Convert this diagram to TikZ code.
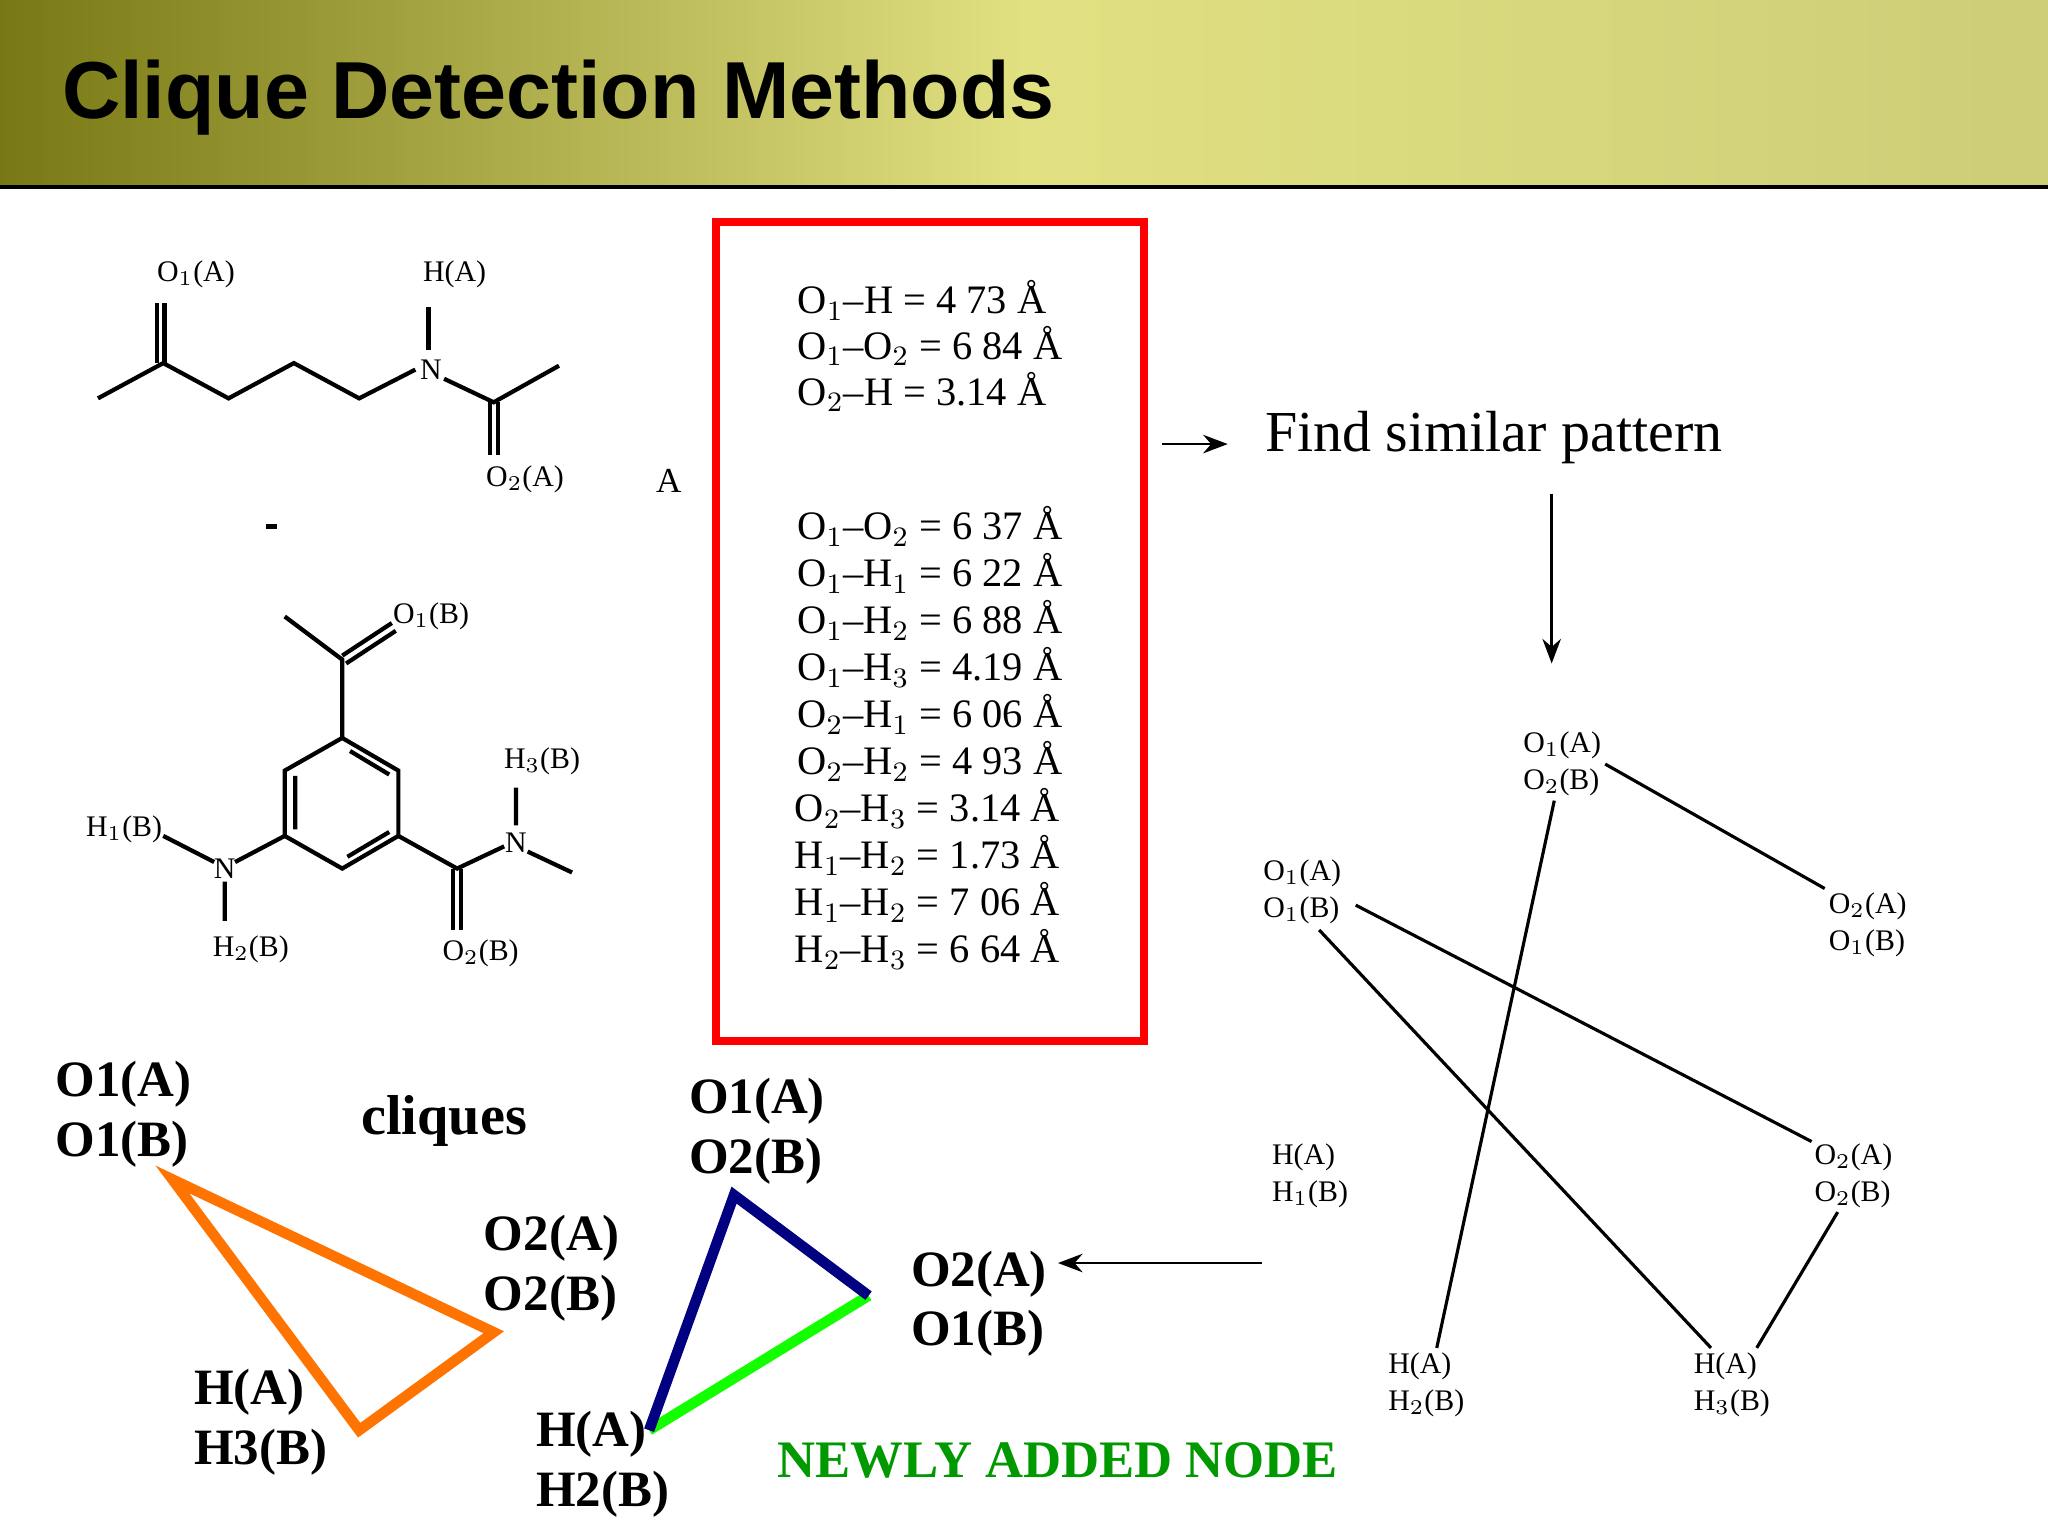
\documentclass[tikz,border=0pt]{standalone}
\usepackage{fontspec}
\setmainfont{Liberation Serif}
\newfontfamily\titlefont{Liberation Sans}
\usetikzlibrary{arrows.meta}
\definecolor{hdl}{RGB}{120,120,20}
\definecolor{hdm}{RGB}{225,225,130}
\definecolor{hdr}{RGB}{205,205,120}
\begin{document}
\begin{tikzpicture}[x=0.01306cm,y=-0.01306cm,
  bond/.style={line width=1.2pt},
  chem/.style={font=\fontsize{8.5}{9}\selectfont,inner sep=1pt},
  dist/.style={font=\fontsize{11.5}{13.4}\selectfont,inner sep=0pt},
  gnode/.style={font=\fontsize{8.5}{10.5}\selectfont,align=left,inner sep=1pt},
  blab/.style={font=\fontsize{14.5}{17}\selectfont\bfseries,align=left,inner sep=0pt,anchor=north west},
  edge/.style={line width=0.9pt},
  arr/.style={line width=0.8pt,-{Stealth[length=7pt]}},
  tri/.style={line width=3pt}]
\useasboundingbox (0,0) rectangle (1568,1176);
\fill[white] (0,0) rectangle (1568,1176);
% header
\shade[left color=hdl,right color=hdr,middle color=hdm] (0,0) rectangle (1568,143);
\draw[line width=1pt] (0,143) -- (1568,143);
\node[anchor=west,font=\titlefont\bfseries\fontsize{23}{26}\selectfont] (title) at (38,75) {Clique Detection Methods};
% structure A
\draw[bond] (75,305)--(125,278)--(175,305)--(225,278)--(275,305)--(318,283);
\draw[bond] (340,290)--(378,308)--(428,280);
\draw[bond] (120,278)--(120,232) (126,278)--(126,232);
\draw[bond] (328,235)--(328,268);
\draw[bond] (375,308)--(375,348) (381,308)--(381,348);
\node[chem] (NA) at (330,283) {N};
\node[chem] (O1A) at (150,210) {O$_1$(A)};
\node[chem] (HA) at (348,210) {H(A)};
\node[chem] (O2A) at (402,367) {O$_2$(A)};
\node[chem,font=\fontsize{10}{11}\selectfont] (Alab) at (512,368) {A};
\draw[line width=1.5pt] (204,403)--(212,403);
% structure B
\draw[bond] (262,565)--(305,590)--(305,640)--(262,665)--(218,640)--(218,590)--cycle;
\draw[bond] (268,575)--(298,593) (298,637)--(266,656) (226,635)--(226,594);
\draw[bond] (262,565)--(262,505)--(218,472);
\draw[bond] (262,502)--(300,477) (265,508)--(303,483);
\draw[bond] (218,640)--(180,660) (164,660)--(125,640) (172,675)--(172,705);
\draw[bond] (305,640)--(350,665)--(386,648) (404,652)--(438,668) (395,603)--(395,632);
\draw[bond] (347,665)--(347,712) (353,665)--(353,712);
\node[chem] (NB1) at (172,665) {N};
\node[chem] (NB2) at (395,645) {N};
\node[chem] (O1B) at (330,472) {O$_1$(B)};
\node[chem] (H1B) at (95,635) {H$_1$(B)};
\node[chem] (H2B) at (192,727) {H$_2$(B)};
\node[chem] (O2B) at (368,730) {O$_2$(B)};
\node[chem] (H3B) at (415,583) {H$_3$(B)};
% red box
\draw[red,line width=2.2pt] (548,170) rectangle (876,797);
\node[dist] (d1) at (706,230) {O$_1$--H = 4 73 Å};
\node[dist] (d2) at (712,265) {O$_1$--O$_2$ = 6 84 Å};
\node[dist] (d3) at (706,300) {O$_2$--H = 3.14 Å};
\node[dist] (e1) at (712,403) {O$_1$--O$_2$ = 6 37 Å};
\node[dist] (e2) at (712,439) {O$_1$--H$_1$ = 6 22 Å};
\node[dist] (e3) at (712,475) {O$_1$--H$_2$ = 6 88 Å};
\node[dist] (e4) at (712,511) {O$_1$--H$_3$ = 4.19 Å};
\node[dist] (e5) at (712,547) {O$_2$--H$_1$ = 6 06 Å};
\node[dist] (e6) at (712,583) {O$_2$--H$_2$ = 4 93 Å};
\node[dist] (e7) at (710,619) {O$_2$--H$_3$ = 3.14 Å};
\node[dist] (e8) at (710,655) {H$_1$--H$_2$ = 1.73 Å};
\node[dist] (e9) at (710,691) {H$_1$--H$_2$ = 7 06 Å};
\node[dist] (e10) at (710,727) {H$_2$--H$_3$ = 6 64 Å};
% find similar
\coordinate (a1s) at (890,340); \coordinate (a1e) at (940,340);
\draw[arr] (a1s)--(a1e);
\node[anchor=west,font=\fontsize{16.5}{19}\selectfont,inner sep=0pt] (find) at (968,335) {Find similar pattern};
\coordinate (a2s) at (1188,378); \coordinate (a2e) at (1188,508);
\draw[arr] (a2s)--(a2e);
% graph
\node[gnode] (n1) at (1196,585) {O$_1$(A)\\O$_2$(B)};
\node[gnode] (n2) at (997,683) {O$_1$(A)\\O$_1$(B)};
\node[gnode] (n3) at (1430,708) {O$_2$(A)\\O$_1$(B)};
\node[gnode] (n4) at (1003,900) {H(A)\\H$_1$(B)};
\node[gnode] (n5) at (1419,900) {O$_2$(A)\\O$_2$(B)};
\node[gnode] (n6) at (1092,1060) {H(A)\\H$_2$(B)};
\node[gnode] (n7) at (1326,1060) {H(A)\\H$_3$(B)};
\draw[edge] (n1.east) -- (n3.north west);
\draw[edge] (1190,613) -- (1100,1032);
\draw[edge] (1038,693) -- (1387,874);
\draw[edge] (1010,712) -- (1310,1032);
\draw[edge] (1407,928) -- (1345,1032);
\coordinate (a3s) at (966,967); \coordinate (a3e) at (810,967);
\draw[arr] (a3s)--(a3e);
% cliques
\node[blab] (c1) at (42,812) {O1(A)\\O1(B)};
\node[font=\fontsize{16}{18}\selectfont\bfseries] (cl) at (340,858) {cliques};
\node[blab] (c2) at (370,930) {O2(A)\\O2(B)};
\node[blab] (c3) at (148,1048) {H(A)\\H3(B)};
\coordinate (t1) at (132,903); \coordinate (t2) at (378,1020); \coordinate (t3) at (275,1095);
\draw[tri,orange!90!red,line join=miter] (t1)--(t2)--(t3)--cycle;
\node[blab] (c4) at (527,825) {O1(A)\\O2(B)};
\node[blab] (c5) at (697,957) {O2(A)\\O1(B)};
\node[blab] (c6) at (410,1080) {H(A)\\H2(B)};
\coordinate (u1) at (562,915); \coordinate (u2) at (665,992); \coordinate (u3) at (497,1095);
\draw[tri,green!90!lime] (u3)--(u2);
\draw[tri,blue!50!black] (u2)--(u1)--(u3);
\node[font=\fontsize{15}{17}\selectfont\bfseries,text=green!60!black] (new) at (810,1118) {NEWLY ADDED NODE};
\end{tikzpicture}
\end{document}
